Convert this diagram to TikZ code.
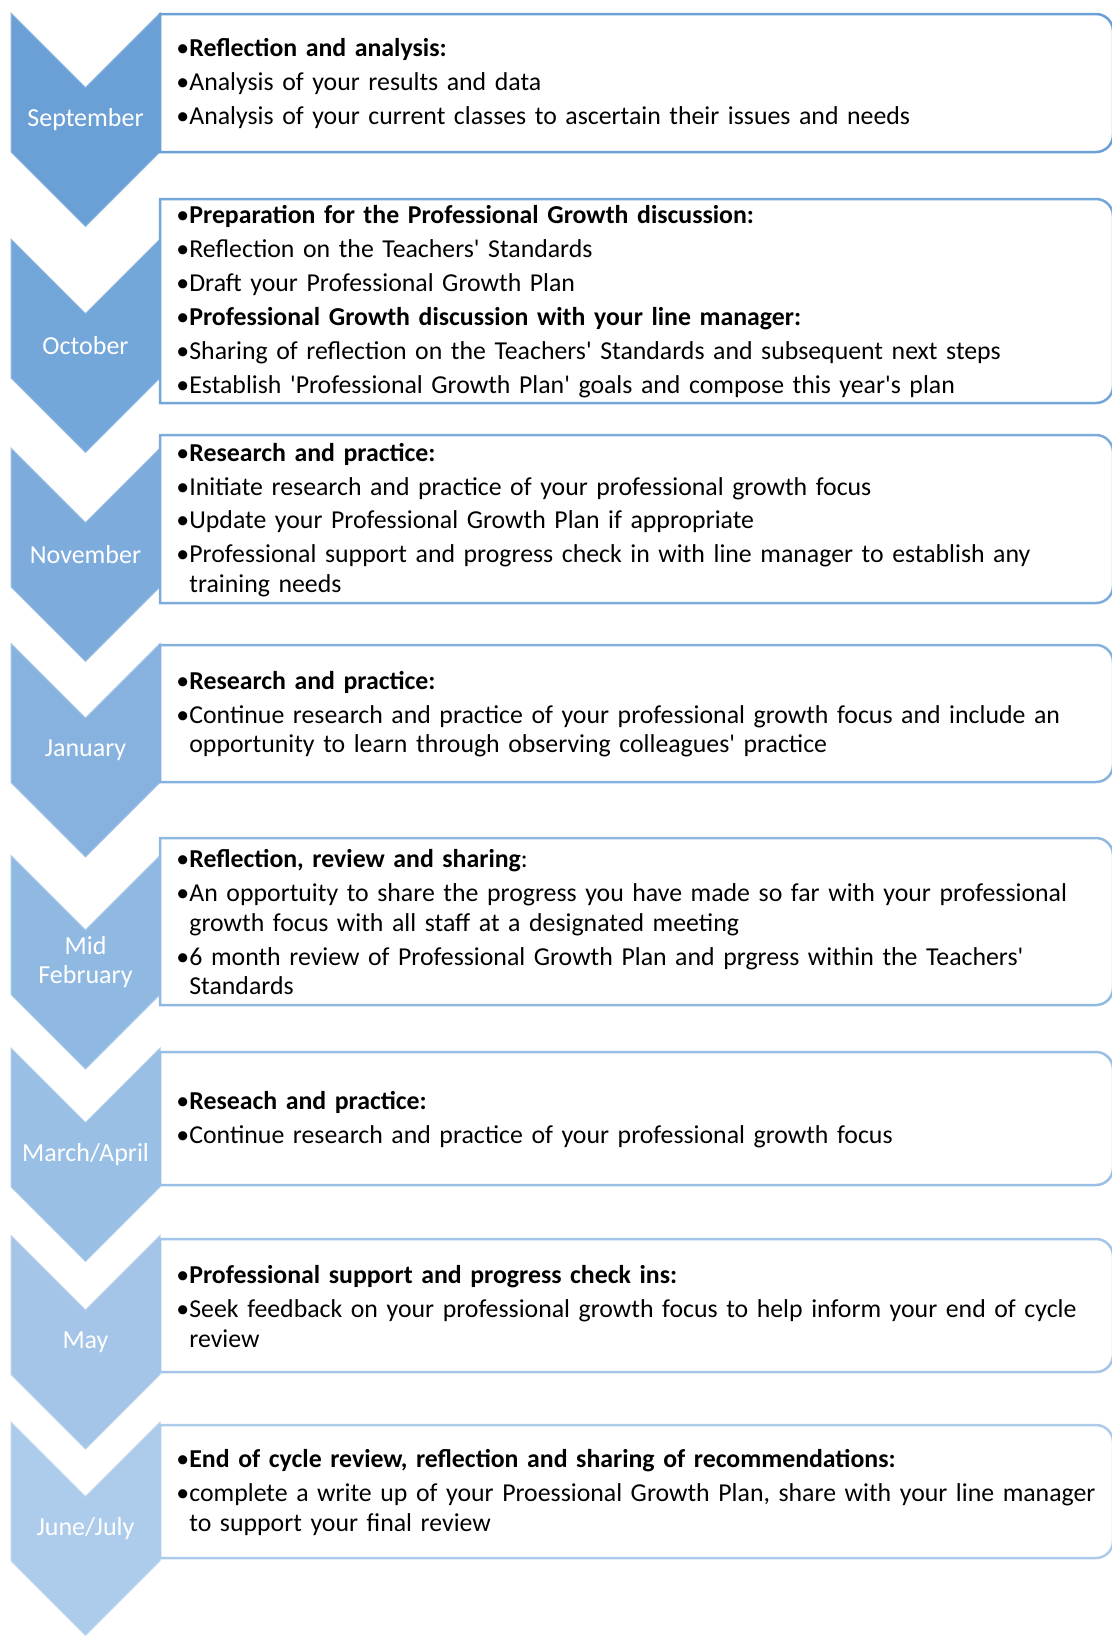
\documentclass[tikz,border=0pt]{standalone}
\usepackage{fontspec}
\setmainfont{Carlito}
\usepackage{tikz}
\definecolor{sepblue}{RGB}{106,160,214}
\definecolor{juneblue}{RGB}{173,203,234}
\tikzstyle{chevron} = [fill=rowcol, draw=rowcol!75!white, line width=0.5pt]
\tikzstyle{stepframe} = [draw=rowcol, fill=white, line width=1.25pt]
\tikzstyle{monthlabel} = [text=white, align=center, inner sep=0pt, font=\fontsize{13}{14.5}\selectfont]
\tikzstyle{steptext} = [anchor=west, inner sep=0pt, text width=470pt, align=left, font=\fontsize{12.9}{14.75}\selectfont, execute at begin node={\setlength{\parskip}{2.2pt}}]
\newcommand{\itm}[1]{\par\hangindent=6.5pt\hangafter=1\noindent\makebox[6.5pt][l]{•}#1}
\newcommand{\hdr}[1]{\itm{\textbf{#1}}}
\newcommand{\ap}{\textquotesingle}
% one month: name, frame centre y, frame half height, chevron centre y, shade, label, text
\newcommand{\monthrow}[7]{%
  \colorlet{rowcol}{juneblue!#5!sepblue}
  \draw[chevron] (11,#4-69.5) -- (85.5,#4+5) -- (160,#4-69.5) -- (160,#4+69.5) -- (85.5,#4+144) -- (11,#4+69.5) -- cycle;
  \node[monthlabel] (#1) at (85.5,#4+37) {#6};
  \draw[stepframe] (160,#2+#3) -- (160,#2-#3) -- (1096,#2-#3) arc[start angle=90, end angle=0, radius=8.5pt] -- (1113,#2+#3-17) arc[start angle=0, end angle=-90, radius=8.5pt] -- cycle;
  \node[steptext] (#1 text) at (176,#2-7) {#7\par};
}

\begin{document}
\begin{tikzpicture}[x=0.5pt, y=-0.5pt]
\useasboundingbox (0,0) rectangle (1112,1644);

\monthrow{sep}{83}{69}{82.5}{0}{September}{%
  \hdr{Reflection and analysis:}
  \itm{Analysis of your results and data}
  \itm{Analysis of your current classes to ascertain their issues and needs}}

\monthrow{oct}{301}{102}{308.5}{14}{October}{%
  \hdr{Preparation for the Professional Growth discussion:}
  \itm{Reflection on the Teachers\ap\ Standards}
  \itm{Draft your Professional Growth Plan}
  \hdr{Professional Growth discussion with your line manager:}
  \itm{Sharing of reflection on the Teachers\ap\ Standards and subsequent next steps}
  \itm{Establish \ap Professional Growth Plan\ap\ goals and compose this year\ap s plan}}

\monthrow{nov}{519}{84}{517.5}{29}{November}{%
  \hdr{Research and practice:}
  \itm{Initiate research and practice of your professional growth focus}
  \itm{Update your Professional Growth Plan if appropriate}
  \itm{Professional support and progress check in with line manager to establish any\newline training needs}}

\monthrow{jan}{713.5}{68.5}{713}{43}{January}{%
  \hdr{Research and practice:}
  \itm{Continue research and practice of your professional growth focus and include an\newline opportunity to learn through observing colleagues\ap\ practice}}

\monthrow{feb}{921.5}{83.5}{925}{57}{Mid\\February}{%
  \itm{\textbf{Reflection, review and sharing}:}
  \itm{An opportuity to share the progress you have made so far with your professional\newline growth focus with all staff at a designated meeting}
  \itm{6 month review of Professional Growth Plan and prgress within the Teachers\ap\newline Standards}}

\monthrow{mar}{1118.5}{66.5}{1117.5}{71}{March/April}{%
  \hdr{Reseach and practice:}
  \itm{Continue research and practice of your professional growth focus}}

\monthrow{may}{1305.5}{66.5}{1305}{86}{May}{%
  \hdr{Professional support and progress check ins:}
  \itm{Seek feedback on your professional growth focus to help inform your end of cycle\newline review}}

\monthrow{jun}{1491.5}{66.5}{1491.5}{100}{June/July}{%
  \hdr{End of cycle review, reflection and sharing of recommendations:}
  \itm{complete a write up of your Proessional Growth Plan, share with your line manager\newline to support your final review}}
\end{tikzpicture}
\end{document}
